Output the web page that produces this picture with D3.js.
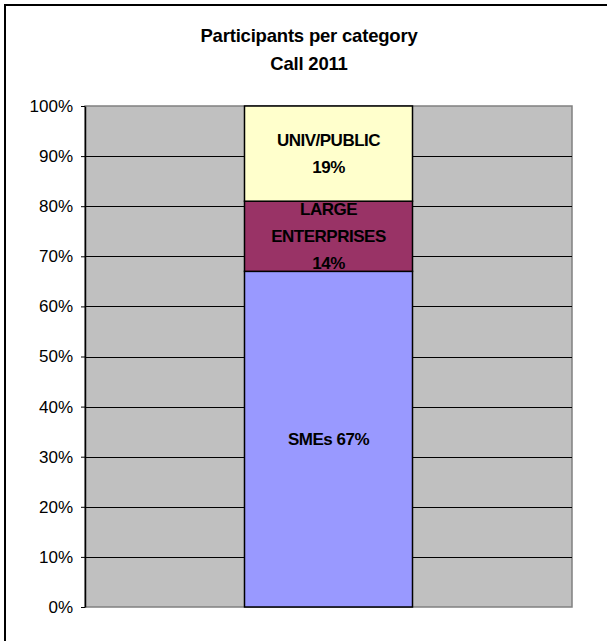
<!DOCTYPE html>
<html>
<head>
<meta charset="utf-8">
<script src="https://cdn.jsdelivr.net/npm/d3@7"></script>
<style>
  body { margin: 0; background: #fff; }
  svg { display: block; font-family: "Liberation Sans", Arial, sans-serif; }
</style>
</head>
<body>
<svg id="chart" width="607" height="641"></svg>
<script>
// chart data
var categories = ['Call 2011'];
var segmentNames = ['SMEs', 'LARGE ENTERPRISES', 'UNIV/PUBLIC'];
var segmentValues = [0.67, 0.14, 0.19];
var segmentColors = ['#9999FF', '#993366', '#FFFFCC'];
// label lines shown inside each segment
var segmentLabels = [['SMEs 67%'], ['LARGE', 'ENTERPRISES', '14%'], ['UNIV/PUBLIC', '19%']];
var yTicks = [0, 0.1, 0.2, 0.3, 0.4, 0.5, 0.6, 0.7, 0.8, 0.9, 1.0];
var titleLines = ['Participants per category', 'Call 2011'];

var svg = d3.select('#chart');
var margin = { top: 106, right: 35, bottom: 34, left: 85 };
var width = 607 - margin.left - margin.right;
var height = 641 - margin.top - margin.bottom;

// outer chart frame (only top and left edges are inside the picture)
svg.append('rect')
   .attr('x', 5)
   .attr('y', 5)
   .attr('width', 800)
   .attr('height', 800)
   .attr('fill', 'none')
   .attr('stroke', '#000')
   .attr('stroke-width', 2);

// title
svg.append('g')
   .selectAll('text')
   .data(titleLines)
   .enter()
   .append('text')
   .attr('x', 309)
   .attr('y', (d, i) => 42 + i * 28)
   .attr('text-anchor', 'middle')
   .attr('font-size', '18.5px')
   .attr('font-weight', 'bold')
   .attr('letter-spacing', '-0.2px')
   .attr('fill', '#000')
   .text(d => d);

var g = svg.append('g')
           .attr('transform', 'translate(' + margin.left + ',' + margin.top + ')');

var x = d3.scaleBand()
          .domain(categories)
          .range([0, width])
          .paddingInner(0.655)
          .paddingOuter(0.3275);

var y = d3.scaleLinear()
          .domain([0, 1])
          .range([height, 0]);

// stacked data
var stackRow = {};
segmentNames.forEach((n, i) => { stackRow[n] = segmentValues[i]; });
var series = d3.stack().keys(segmentNames)([stackRow]);

// plot area
g.append('rect')
 .attr('x', 0)
 .attr('y', 0)
 .attr('width', width)
 .attr('height', height)
 .attr('fill', '#C0C0C0')
 .attr('stroke', '#808080')
 .attr('stroke-width', 1.5);

// gridlines
g.append('g')
 .selectAll('line')
 .data(yTicks.filter(t => t > 0 && t < 1))
 .enter()
 .append('line')
 .attr('x1', 0)
 .attr('x2', width)
 .attr('y1', d => Math.round(y(d)) + 0.5)
 .attr('y2', d => Math.round(y(d)) + 0.5)
 .attr('stroke', '#000')
 .attr('stroke-width', 1);

// bars
var bx = x(categories[0]);
g.append('g')
 .selectAll('rect')
 .data(series)
 .enter()
 .append('rect')
 .attr('x', bx)
 .attr('width', x.bandwidth())
 .attr('y', d => y(d[0][1]))
 .attr('height', d => y(d[0][0]) - y(d[0][1]))
 .attr('fill', (d, i) => segmentColors[i])
 .attr('stroke', '#000')
 .attr('stroke-width', 1.5);

// segment labels
var lineGap = 27;
series.forEach((s, i) => {
  var lines = segmentLabels[i];
  var mid = (y(s[0][0]) + y(s[0][1])) / 2;
  var first = mid + 6 - (lines.length - 1) * lineGap / 2;
  g.append('g')
   .selectAll('text')
   .data(lines)
   .enter()
   .append('text')
   .attr('x', bx + x.bandwidth() / 2)
   .attr('y', (d, j) => first + j * lineGap)
   .attr('text-anchor', 'middle')
   .attr('font-size', '17px')
   .attr('font-weight', 'bold')
   .attr('letter-spacing', '-0.5px')
   .attr('fill', '#000')
   .text(d => d);
});

// y axis
g.append('g')
 .call(d3.axisLeft(y)
   .tickValues(yTicks)
   .tickSize(4)
   .tickPadding(8)
   .tickSizeOuter(0)
   .tickFormat(d3.format('.0%')))
 .call(a => a.select('.domain').attr('stroke', '#000').attr('stroke-width', 1.5))
 .call(a => a.selectAll('.tick line').attr('stroke', '#000'))
 .call(a => a.selectAll('.tick text')
   .attr('font-size', '17px')
   .attr('font-family', '"Liberation Sans", Arial, sans-serif')
   .attr('fill', '#000'));
</script>
</body>
</html>
